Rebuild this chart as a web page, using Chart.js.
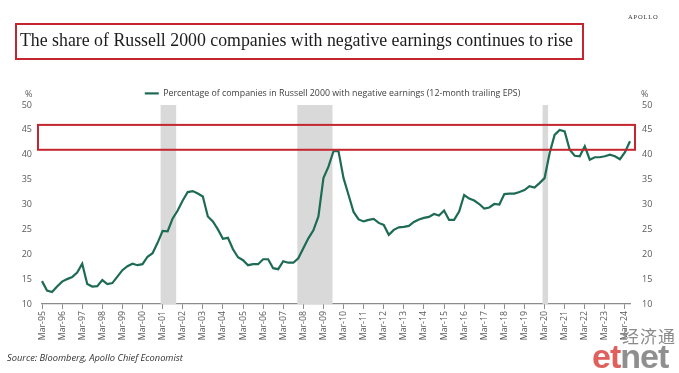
<!DOCTYPE html>
<html><head><meta charset="utf-8">
<script src="https://cdn.jsdelivr.net/npm/chart.js@4.4.1/dist/chart.umd.min.js"></script>
<style>
html,body{margin:0;padding:0;background:#fff;}
#wrap{position:relative;width:679px;height:373px;overflow:hidden;font-family:"Open Sans",sans-serif;}
#c{position:absolute;left:0;top:0;}
.abs{position:absolute;white-space:nowrap;line-height:1;}
#titlebox{left:15px;top:23px;width:565px;height:33px;border:2px solid #c3262e;}
#title{left:20px;top:30px;font-family:"Liberation Serif",serif;font-size:19px;color:#1c1c1c;transform-origin:0 0;}
#apollo{left:628px;top:14px;font-family:"Liberation Serif",serif;font-size:6.5px;letter-spacing:0.8px;color:#333;}
.pct{font-size:9px;color:#595959;}
#source{left:7px;top:353px;font-size:9.3px;font-style:italic;color:#333;}
#wm1{left:622px;top:327px;font-family:"Noto Sans CJK SC",sans-serif;font-size:17px;color:#8a8a8a;letter-spacing:1px;}
#wm2{left:592px;top:339px;font-family:"Liberation Sans",sans-serif;font-weight:bold;font-size:34px;letter-spacing:-1px;}
#wm2 .r{color:#e0605e;} #wm2 .g{color:#8f8f8f;}
</style></head>
<body>
<div id="wrap">
<canvas id="c" width="679" height="373"></canvas>
<div class="abs" id="titlebox"></div>
<div class="abs" id="title">The share of Russell 2000 companies with negative earnings continues to rise</div>
<div class="abs" id="apollo">APOLLO</div>
<div class="abs pct" style="left:25px;top:89px;">%</div>
<div class="abs pct" style="left:641px;top:89px;">%</div>
<div class="abs" id="source">Source: Bloomberg, Apollo Chief Economist</div>
<div class="abs" id="wm1">经济通</div>
<div class="abs" id="wm2"><span class="r">et</span><span class="g">net</span></div>
</div>
<script>
// ---- data ----
const years = [1995,1996,1997,1998,1999,2000,2001,2002,2003,2004,2005,2006,2007,2008,2009,2010,2011,2012,2013,2014,2015,2016,2017,2018,2019,2020,2021,2022,2023,2024];
const quarterMonths = ['Mar','Jun','Sep','Dec'];
const seriesLabel = 'Percentage of companies in Russell 2000 with negative earnings (12-month trailing EPS)';
const values = [
 14.6,12.7,12.4,13.5,
 14.5,15.0,15.4,16.3,
 18.1,14.0,13.5,13.6,
 14.8,14.0,14.2,15.5,
 16.8,17.6,18.1,17.8,
 18.0,19.5,20.2,22.3,
 24.7,24.6,27.2,28.8,
 30.8,32.5,32.7,32.2,
 31.6,27.6,26.6,25.0,
 23.1,23.3,21.0,19.4,
 18.8,17.8,18.0,18.0,
 19.0,19.0,17.2,17.0,
 18.6,18.3,18.3,19.2,
 21.2,23.2,24.8,27.6,
 35.3,37.6,40.7,40.7,
 35.3,31.9,28.5,27.0,
 26.6,26.9,27.1,26.3,
 25.9,23.9,24.9,25.4,
 25.5,25.7,26.5,27.0,
 27.3,27.5,28.1,27.8,
 28.8,26.9,26.9,28.6,
 31.9,31.2,30.8,30.1,
 29.2,29.4,30.1,30.0,
 32.1,32.2,32.2,32.5,
 32.9,33.7,33.4,34.3,
 35.3,40.3,44.0,45.0,
 44.7,41.0,39.8,39.7,
 41.7,39.0,39.5,39.5,
 39.7,40.0,39.7,39.1,
 40.5,42.7
];
// recession periods, in quarter-index units along the category axis
const recessions = [[23.6,26.7],[50.8,57.8],[99.6,100.7]];
const highlightRange = [41, 46];
const yMin = 10, yMax = 50, yStep = 5;

const categories = [];
years.forEach(y => quarterMonths.forEach(m => categories.push(m + '-' + String(y).slice(2))));
categories.length = values.length;

// ---- title fit ----
const t = document.getElementById('title');
const tw = t.getBoundingClientRect().width;
t.style.transform = 'scaleX(' + (553 / tw) + ')';

Chart.defaults.font.family = "'Open Sans', sans-serif";

const shading = {
  id: 'shading',
  beforeDatasetsDraw(chart) {
    const {ctx, chartArea: a, scales: {x}} = chart;
    ctx.save();
    ctx.fillStyle = '#d9d9d9';
    recessions.forEach(([s, e]) => {
      const x1 = x.getPixelForValue(s), x2 = x.getPixelForValue(e);
      ctx.fillRect(x1, a.top, x2 - x1, a.bottom - a.top);
    });
    ctx.restore();
  },
  afterDatasetsDraw(chart) {
    const {ctx, chartArea: a, scales: {y}} = chart;
    const y1 = y.getPixelForValue(highlightRange[1]), y2 = y.getPixelForValue(highlightRange[0]);
    ctx.save();
    ctx.strokeStyle = '#c3262e';
    ctx.lineWidth = 2;
    ctx.strokeRect(a.left - 4, y1, a.right - a.left + 9, y2 - y1);
    ctx.restore();
  }
};
const legendFix = {
  id: 'legendFix',
  afterInit(chart) {
    const lg = chart.legend;
    const fit = lg.fit;
    lg.fit = function() { fit.call(this); this.height = 20; };
    const draw = lg.draw;
    lg.draw = function() {
      const ctx = this.ctx;
      ctx.save(); ctx.translate(-7, 0); draw.call(this); ctx.restore();
    };
  }
};

const yAxis = (pos, w) => ({
  position: pos, min: yMin, max: yMax,
  ticks: { stepSize: yStep, color: '#595959', font: { size: 9 }, padding: pos === 'left' ? 10 : 12 },
  grid: { display: false, drawTicks: false },
  border: { display: false },
  afterFit(s) { s.width = w; }
});

new Chart(document.getElementById('c'), {
  type: 'line',
  data: {
    labels: categories,
    datasets: [{
      label: seriesLabel, data: values,
      borderColor: '#1d6b55', backgroundColor: '#1d6b55',
      borderWidth: 2.2, pointRadius: 0, tension: 0, yAxisID: 'y'
    }]
  },
  options: {
    responsive: false, animation: false,
    layout: { padding: { top: 85, left: 0, right: 0, bottom: 0 } },
    plugins: {
      legend: {
        position: 'top',
        labels: { usePointStyle: true, pointStyle: 'line', pointStyleWidth: 14, color: '#404040', font: { size: 8.8 }, padding: 4 }
      },
      tooltip: { enabled: false }
    },
    scales: {
      x: {
        type: 'category',
        grid: { drawOnChartArea: false, drawTicks: true, tickLength: 5, color: '#8c8c8c' },
        border: { color: '#8c8c8c', width: 1.3 },
        ticks: {
          autoSkip: false, minRotation: 90, maxRotation: 90, padding: 2,
          color: '#595959', font: { size: 8.8 },
          callback(v, i) { return i % 4 === 0 ? this.getLabelForValue(v) : null; }
        },
        afterFit(s) { s.height = 69; }
      },
      y: yAxis('left', 42),
      y2: yAxis('right', 49)
    }
  },
  plugins: [shading, legendFix]
});
</script>
</body></html>
